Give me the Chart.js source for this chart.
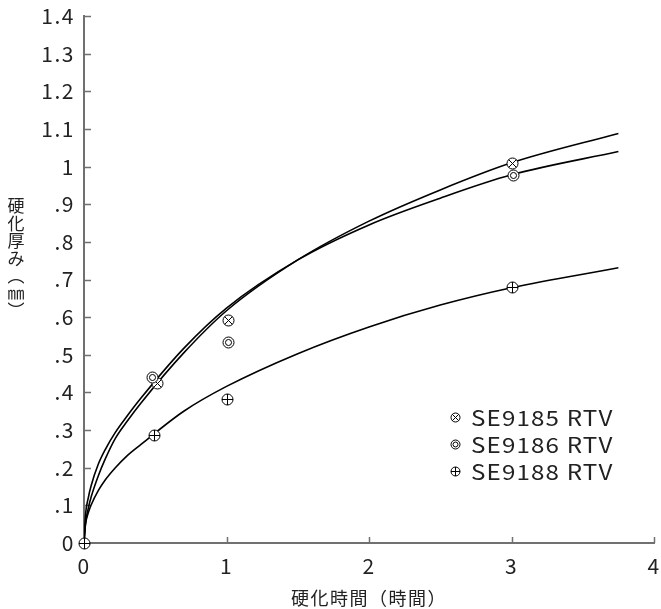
<!DOCTYPE html>
<html>
<head>
<meta charset="utf-8">
<script src="https://cdn.jsdelivr.net/npm/chart.js@4"></script>
<style>
  html, body { margin: 0; padding: 0; background: #fff; }
  #wrap { width: 661px; height: 609px; }
</style>
</head>
<body>
<div id="wrap"><canvas id="chart" width="661" height="609"></canvas></div>
<script>
// Series names
const seriesNames = ['SE9185 RTV', 'SE9186 RTV', 'SE9188 RTV'];

// Measured cure depth (mm) against cure time (h)
const se9185Measured = [{ x: 0.51, y: 0.424 }, { x: 1.01, y: 0.592 }, { x: 3.0, y: 1.010 }];
const se9186Measured = [{ x: 0.48, y: 0.442 }, { x: 1.01, y: 0.535 }, { x: 3.01, y: 0.977 }];
const se9188Measured = [{ x: 0, y: 0 }, { x: 0.49, y: 0.286 }, { x: 1.0, y: 0.382 }, { x: 3.0, y: 0.679 }];

// Fitted growth curves sampled along the time axis
const curveTimes  = [0, 0.01, 0.03, 0.05, 0.1, 0.15, 0.22, 0.3, 0.4, 0.7, 1, 1.5, 2, 2.5, 3, 3.75];
const se9185Curve = [0, 0.050, 0.092, 0.122, 0.178, 0.224, 0.278, 0.322, 0.372, 0.505, 0.617, 0.752, 0.855, 0.938, 1.010, 1.088];
const se9186Curve = [0, 0.073, 0.120, 0.152, 0.209, 0.249, 0.294, 0.336, 0.385, 0.517, 0.624, 0.752, 0.845, 0.916, 0.978, 1.040];
const se9188Curve = [0, 0.048, 0.080, 0.101, 0.139, 0.168, 0.200, 0.231, 0.262, 0.350, 0.416, 0.503, 0.574, 0.632, 0.678, 0.731];

// Axis tick labels
const xTickLabels = ['0', '1', '2', '3', '4'];
const yTickLabels = ['0', '.1', '.2', '.3', '.4', '.5', '.6', '.7', '.8', '.9', '1', '1.1', '1.2', '1.3', '1.4'];

// Axis titles
const xAxisTitle = '硬化時間（時間）';
const yAxisTitle = '硬化厚み（㎜）';

const FONT = '"Noto Sans CJK JP", "Noto Sans", sans-serif';
const INK = '#222';
const AXIS = '#707070';

// Marker glyphs: circle with an X, double circle, circle with a plus
const markerKinds = ['x', 'o', '+'];

function drawMarker(ctx, kind, x, y, r) {
  const cx = Math.round(x) + 0.5;
  const cy = Math.round(y) + 0.5;
  ctx.save();
  ctx.lineWidth = 1;
  ctx.strokeStyle = '#000';
  ctx.fillStyle = '#fff';
  ctx.beginPath();
  ctx.arc(cx, cy, r, 0, Math.PI * 2);
  ctx.fill();
  ctx.stroke();
  ctx.beginPath();
  if (kind === 'x') {
    const d = r * 0.7071;
    ctx.moveTo(cx - d, cy - d); ctx.lineTo(cx + d, cy + d);
    ctx.moveTo(cx + d, cy - d); ctx.lineTo(cx - d, cy + d);
  } else if (kind === 'o') {
    ctx.arc(cx, cy, r * 0.55, 0, Math.PI * 2);
  } else {
    ctx.moveTo(cx - r, cy); ctx.lineTo(cx + r, cy);
    ctx.moveTo(cx, cy - r); ctx.lineTo(cx, cy + r);
  }
  ctx.stroke();
  ctx.restore();
}

const measuredSets = [se9185Measured, se9186Measured, se9188Measured];
const curveSets = [se9185Curve, se9186Curve, se9188Curve];

const datasets = [];
measuredSets.forEach((pts, i) => {
  datasets.push({
    label: seriesNames[i],
    data: pts,
    showLine: false,
    pointRadius: 0,
    pointHitRadius: 6,
    clip: false,
    order: 0,
    marker: markerKinds[i]
  });
});
curveSets.forEach((ys, i) => {
  datasets.push({
    label: seriesNames[i] + ' curve',
    data: curveTimes.map((t, k) => ({ x: t, y: ys[k] })),
    showLine: true,
    borderColor: '#000',
    borderWidth: 1.6,
    pointRadius: 0,
    cubicInterpolationMode: 'monotone',
    fill: false,
    order: 1
  });
});

// Letter spacing for the wide latin text of the ticks
const textSpacing = {
  id: 'textSpacing',
  beforeUpdate(chart) { chart.ctx.letterSpacing = '1.5px'; },
  beforeDraw(chart) { chart.ctx.letterSpacing = '1.5px'; }
};

// Short tick marks pointing into the plot area
const inwardTicks = {
  id: 'inwardTicks',
  beforeDatasetsDraw(chart) {
    const { ctx, chartArea, scales: { x, y } } = chart;
    ctx.save();
    ctx.strokeStyle = AXIS;
    ctx.lineWidth = 1.5;
    ctx.beginPath();
    y.ticks.forEach(t => {
      const py = Math.round(y.getPixelForValue(t.value)) + 0.5;
      ctx.moveTo(chartArea.left, py);
      ctx.lineTo(chartArea.left + 7, py);
    });
    x.ticks.forEach(t => {
      const px = Math.round(x.getPixelForValue(t.value)) + 0.5;
      ctx.moveTo(px, chartArea.bottom);
      ctx.lineTo(px, chartArea.bottom - 6);
    });
    ctx.stroke();
    ctx.restore();
  }
};

// Measurement symbols placed at the scale positions of each data point
const measuredSymbols = {
  id: 'measuredSymbols',
  afterDatasetsDraw(chart) {
    const { ctx } = chart;
    chart.data.datasets.forEach((d, i) => {
      if (!d.marker) return;
      chart.getDatasetMeta(i).data.forEach(el => drawMarker(ctx, d.marker, el.x, el.y, 5.5));
    });
  }
};

// Vertical (stacked) y-axis title
const verticalTitle = {
  id: 'verticalTitle',
  afterDraw(chart) {
    const { ctx } = chart;
    const vertForms = { '（': '︵', '）': '︶' };
    const chars = Array.from(yAxisTitle).map(ch => vertForms[ch] || ch);
    ctx.save();
    ctx.letterSpacing = '0px';
    ctx.fillStyle = INK;
    ctx.font = '17px ' + FONT;
    ctx.textAlign = 'center';
    ctx.textBaseline = 'middle';
    const step = 17.4;
    const startY = 206;
    chars.forEach((ch, i) => ctx.fillText(ch, 16, startY + i * step));
    ctx.restore();
  }
};

// Legend of measurement symbols inside the plot area
const markerLegend = {
  id: 'markerLegend',
  afterDraw(chart) {
    const { ctx } = chart;
    chart.data.datasets.forEach((d) => {
      if (!d.marker) return;
      const row = markerKinds.indexOf(d.marker);
      const cy = 417 + row * 27;
      drawMarker(ctx, d.marker, 455, cy, 4.5);
      ctx.save();
      ctx.fillStyle = INK;
      ctx.font = '21px ' + FONT;
      ctx.letterSpacing = '1px';
      ctx.textAlign = 'left';
      ctx.textBaseline = 'middle';
      ctx.translate(471, cy + 1);
      ctx.scale(1.15, 1);
      ctx.fillText(d.label, 0, 0);
      ctx.restore();
    });
  }
};

new Chart(document.getElementById('chart'), {
  type: 'scatter',
  data: { datasets },
  options: {
    responsive: false,
    animation: false,
    devicePixelRatio: 1,
    layout: { padding: { top: 16, right: 7, bottom: 0, left: 0 } },
    plugins: {
      legend: { display: false },
      tooltip: { enabled: false }
    },
    scales: {
      x: {
        type: 'linear',
        min: 0,
        max: 4,
        grid: { display: false, drawTicks: false },
        border: { display: true, color: AXIS, width: 2 },
        ticks: {
          stepSize: 1,
          padding: 10,
          color: INK,
          font: { family: FONT, size: 21 },
          callback: (v) => xTickLabels[Math.round(v)] ?? ''
        },
        title: {
          display: true,
          text: xAxisTitle,
          color: INK,
          font: { family: FONT, size: 18 },
          padding: { top: 0, bottom: 0 }
        },
        afterFit(scale) {
          scale.height = 66;
          scale.paddingLeft = 0;
          scale.paddingRight = 0;
        }
      },
      y: {
        type: 'linear',
        min: 0,
        max: 1.4,
        grid: { display: false, drawTicks: false },
        border: { display: true, color: AXIS, width: 2 },
        ticks: {
          stepSize: 0.1,
          padding: 9,
          color: INK,
          font: { family: FONT, size: 21 },
          callback: (v) => yTickLabels[Math.round(v * 10)] ?? ''
        },
        afterFit(scale) {
          scale.width = 84;
          scale.paddingTop = 0;
          scale.paddingBottom = 0;
        }
      }
    }
  },
  plugins: [textSpacing, inwardTicks, measuredSymbols, verticalTitle, markerLegend]
});
</script>
</body>
</html>
